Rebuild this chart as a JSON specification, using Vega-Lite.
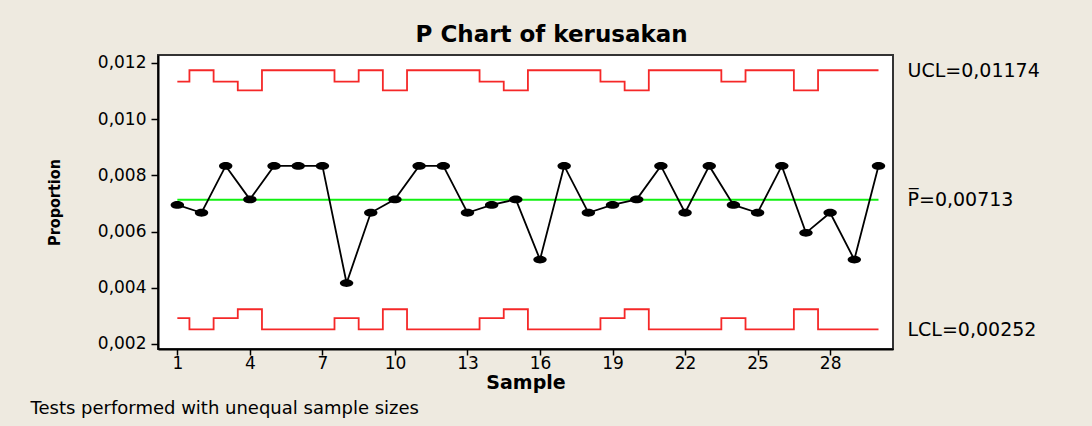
{
  "$schema": "https://vega.github.io/schema/vega-lite/v6.json",
  "width": 735,
  "height": 294,
  "autosize": {"type": "none"},
  "padding": {"left": 158, "top": 55, "right": 199, "bottom": 77},
  "background": "#EEEAE0",
  "title": {
    "text": "P Chart of kerusakan",
    "font": "DejaVu Sans",
    "fontSize": 23,
    "fontWeight": "bold",
    "color": "#000000",
    "anchor": "middle",
    "frame": "bounds",
    "dx": 17,
    "offset": 7
  },
  "data": {
    "values": [
      {"sample": 1, "n": 3600, "p": 0.006944, "ucl": 0.011335, "lcl": 0.002922, "center": 0.00713},
      {"sample": 2, "n": 3000, "p": 0.006667, "ucl": 0.011737, "lcl": 0.002521, "center": 0.00713},
      {"sample": 3, "n": 3600, "p": 0.008333, "ucl": 0.011335, "lcl": 0.002922, "center": 0.00713},
      {"sample": 4, "n": 4200, "p": 0.007143, "ucl": 0.011023, "lcl": 0.003234, "center": 0.00713},
      {"sample": 5, "n": 3000, "p": 0.008333, "ucl": 0.011737, "lcl": 0.002521, "center": 0.00713},
      {"sample": 6, "n": 3000, "p": 0.008333, "ucl": 0.011737, "lcl": 0.002521, "center": 0.00713},
      {"sample": 7, "n": 3000, "p": 0.008333, "ucl": 0.011737, "lcl": 0.002521, "center": 0.00713},
      {"sample": 8, "n": 3600, "p": 0.004167, "ucl": 0.011335, "lcl": 0.002922, "center": 0.00713},
      {"sample": 9, "n": 3000, "p": 0.006667, "ucl": 0.011737, "lcl": 0.002521, "center": 0.00713},
      {"sample": 10, "n": 4200, "p": 0.007143, "ucl": 0.011023, "lcl": 0.003234, "center": 0.00713},
      {"sample": 11, "n": 3000, "p": 0.008333, "ucl": 0.011737, "lcl": 0.002521, "center": 0.00713},
      {"sample": 12, "n": 3000, "p": 0.008333, "ucl": 0.011737, "lcl": 0.002521, "center": 0.00713},
      {"sample": 13, "n": 3000, "p": 0.006667, "ucl": 0.011737, "lcl": 0.002521, "center": 0.00713},
      {"sample": 14, "n": 3600, "p": 0.006944, "ucl": 0.011335, "lcl": 0.002922, "center": 0.00713},
      {"sample": 15, "n": 4200, "p": 0.007143, "ucl": 0.011023, "lcl": 0.003234, "center": 0.00713},
      {"sample": 16, "n": 3000, "p": 0.005, "ucl": 0.011737, "lcl": 0.002521, "center": 0.00713},
      {"sample": 17, "n": 3000, "p": 0.008333, "ucl": 0.011737, "lcl": 0.002521, "center": 0.00713},
      {"sample": 18, "n": 3000, "p": 0.006667, "ucl": 0.011737, "lcl": 0.002521, "center": 0.00713},
      {"sample": 19, "n": 3600, "p": 0.006944, "ucl": 0.011335, "lcl": 0.002922, "center": 0.00713},
      {"sample": 20, "n": 4200, "p": 0.007143, "ucl": 0.011023, "lcl": 0.003234, "center": 0.00713},
      {"sample": 21, "n": 3000, "p": 0.008333, "ucl": 0.011737, "lcl": 0.002521, "center": 0.00713},
      {"sample": 22, "n": 3000, "p": 0.006667, "ucl": 0.011737, "lcl": 0.002521, "center": 0.00713},
      {"sample": 23, "n": 3000, "p": 0.008333, "ucl": 0.011737, "lcl": 0.002521, "center": 0.00713},
      {"sample": 24, "n": 3600, "p": 0.006944, "ucl": 0.011335, "lcl": 0.002922, "center": 0.00713},
      {"sample": 25, "n": 3000, "p": 0.006667, "ucl": 0.011737, "lcl": 0.002521, "center": 0.00713},
      {"sample": 26, "n": 3000, "p": 0.008333, "ucl": 0.011737, "lcl": 0.002521, "center": 0.00713},
      {"sample": 27, "n": 4200, "p": 0.005952, "ucl": 0.011023, "lcl": 0.003234, "center": 0.00713},
      {"sample": 28, "n": 3000, "p": 0.006667, "ucl": 0.011737, "lcl": 0.002521, "center": 0.00713},
      {"sample": 29, "n": 3000, "p": 0.005, "ucl": 0.011737, "lcl": 0.002521, "center": 0.00713},
      {"sample": 30, "n": 3000, "p": 0.008333, "ucl": 0.011737, "lcl": 0.002521, "center": 0.00713}
    ]
  },
  "layer": [
    {
      "mark": {"type": "line", "color": "#10F010", "strokeWidth": 2},
      "encoding": {
        "x": {
          "field": "sample",
          "type": "quantitative",
          "scale": {"domain": [0.2, 30.6], "nice": false, "zero": false},
          "axis": {
            "orient": "top",
            "title": "Tests performed with unequal sample sizes",
            "titleX": -128,
            "titleY": 353,
            "titleAlign": "left",
            "titleAnchor": null,
            "titleAngle": 0,
            "titleBaseline": "middle",
            "titleFont": "DejaVu Sans",
            "titleFontSize": 18,
            "titleFontWeight": "normal",
            "titleColor": "#000000",
            "labels": false,
            "ticks": false,
            "domain": false,
            "grid": false
          }
        },
        "y": {
          "field": "center",
          "type": "quantitative",
          "scale": {"domain": [0.00182, 0.01228], "nice": false, "zero": false},
          "axis": {
            "orient": "right",
            "values": [0.01174, 0.00713, 0.00252],
            "labelExpr": "datum.value > 0.01 ? 'UCL=0,01174' : (datum.value > 0.005 ? 'P\u0305=0,00713' : 'LCL=0,00252')",
            "title": null,
            "ticks": false,
            "domain": false,
            "grid": false,
            "labelPadding": 14,
            "labelFont": "DejaVu Sans",
            "labelFontSize": 19,
            "labelColor": "#000000",
            "labelOverlap": false,
            "labelFlush": false,
            "labelBound": false
          }
        }
      }
    },
    {
      "layer": [
        {
          "mark": {"type": "line", "interpolate": "step", "color": "#F52828", "strokeWidth": 1.8},
          "encoding": {
            "x": {
              "field": "sample",
              "type": "quantitative",
              "scale": {"domain": [0.2, 30.6], "nice": false, "zero": false},
              "axis": {
                "values": [1, 4, 7, 10, 13, 16, 19, 22, 25, 28],
                "format": "d",
                "title": "Sample",
                "titleFont": "DejaVu Sans",
                "titleFontSize": 19,
                "titleFontWeight": "bold",
                "titleColor": "#000000",
                "titleY": 33,
                "titleBaseline": "middle",
                "labelFont": "DejaVu Sans",
                "labelFontSize": 17,
                "labelColor": "#000000",
                "labelPadding": 0,
                "labelFlush": false,
                "labelOverlap": false,
                "tickSize": 6,
                "tickColor": "#000000",
                "tickWidth": 1.5,
                "domainColor": "#000000",
                "domainWidth": 2,
                "grid": false
              }
            },
            "y": {
              "field": "ucl",
              "type": "quantitative",
              "scale": {"domain": [0.00182, 0.01228], "nice": false, "zero": false},
              "axis": {
                "values": [0.002, 0.004, 0.006, 0.008, 0.01, 0.012],
                "labelExpr": "replace(format(datum.value, '.3f'), '.', ',')",
                "title": "Proportion",
                "titleFont": "DejaVu Sans Condensed, Liberation Sans Narrow, DejaVu Sans",
                "titleFontSize": 16,
                "titleFontWeight": "bold",
                "titleColor": "#000000",
                "titleX": -104,
                "titleY": 147,
                "titleBaseline": "middle",
                "titleAlign": "center",
                "labelFont": "DejaVu Sans",
                "labelFontSize": 17,
                "labelColor": "#000000",
                "labelPadding": 5,
                "labelFlush": false,
                "labelOverlap": false,
                "tickSize": 7,
                "tickColor": "#000000",
                "tickWidth": 1.5,
                "domainColor": "#000000",
                "domainWidth": 2,
                "grid": false
              }
            }
          }
        },
        {
          "mark": {"type": "line", "interpolate": "step", "color": "#F52828", "strokeWidth": 1.8},
          "encoding": {
            "x": {"field": "sample", "type": "quantitative"},
            "y": {"field": "lcl", "type": "quantitative"}
          }
        },
        {
          "mark": {"type": "line", "color": "#000000", "strokeWidth": 1.8},
          "encoding": {
            "x": {"field": "sample", "type": "quantitative"},
            "y": {"field": "p", "type": "quantitative"}
          }
        },
        {
          "mark": {
            "type": "point",
            "filled": true,
            "color": "#000000",
            "opacity": 1,
            "size": 180,
            "shape": "M-1,0A1,0.58,0,1,0,1,0A1,0.58,0,1,0,-1,0Z"
          },
          "encoding": {
            "x": {"field": "sample", "type": "quantitative"},
            "y": {"field": "p", "type": "quantitative"}
          }
        }
      ]
    }
  ],
  "resolve": {
    "scale": {"x": "independent", "y": "independent"},
    "axis": {"x": "independent", "y": "independent"}
  },
  "config": {
    "font": "DejaVu Sans",
    "view": {"stroke": "#333333", "strokeWidth": 2, "fill": "#FFFFFF"}
  }
}
